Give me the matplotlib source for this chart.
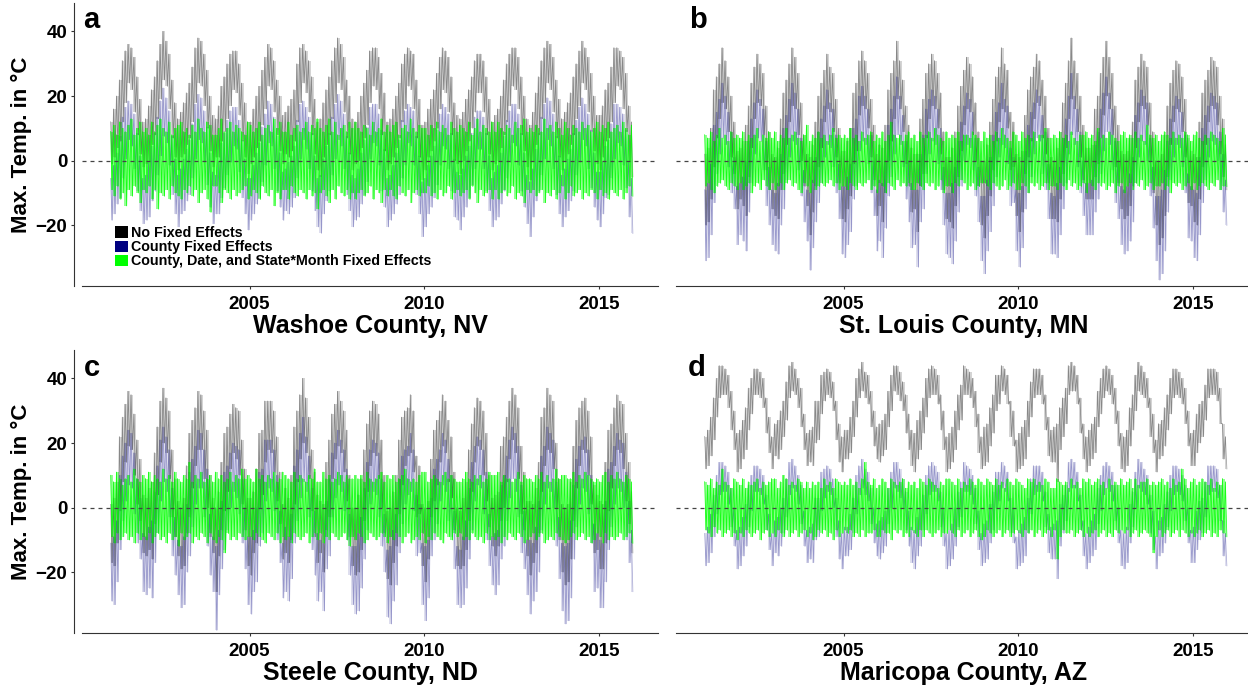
import numpy as np
import matplotlib
matplotlib.use("Agg")
import matplotlib.pyplot as plt
from matplotlib.patches import Patch

plt.rcParams["font.family"] = ["Liberation Sans", "DejaVu Sans"]
plt.rcParams["font.weight"] = "bold"

start_year = 2001   # monthly data, Jan 2001 .. Dec 2015 (one row per year)

# ---- "No Fixed Effects": monthly max / min of daily max temp (deg C) ----
washoe_hi = [
    [12,16,20,25,31,34,36,35,32,26,19,12],
    [13,17,22,26,31,36,40,37,33,25,18,13],
    [15,18,21,24,29,35,38,37,33,28,20,14],
    [13,17,23,26,30,33,34,34,30,24,18,12],
    [12,16,20,23,28,32,36,35,31,25,20,14],
    [15,17,19,22,30,35,36,34,31,26,19,12],
    [13,18,22,26,31,35,38,36,32,25,20,13],
    [12,15,20,24,28,34,35,35,32,27,21,12],
    [13,16,20,24,30,33,35,34,33,25,19,11],
    [12,16,19,22,27,32,35,34,32,26,18,14],
    [13,15,19,22,26,31,33,33,31,26,19,12],
    [14,16,20,25,30,33,35,35,32,26,20,13],
    [11,15,21,26,31,35,37,36,32,25,19,13],
    [15,18,21,26,30,34,37,35,32,27,20,14],
    [14,17,22,24,29,35,35,34,32,27,17,12]]
washoe_lo = [
    [-1,1,4,6,12,18,24,22,15,8,2,-2],
    [-1,0,5,8,13,19,25,23,16,7,1,-3],
    [1,2,5,7,12,18,24,23,17,10,3,-2],
    [1,1,6,9,13,17,22,21,14,6,1,-4],
    [-1,1,4,6,11,16,23,22,15,8,3,-1],
    [2,1,3,6,12,18,24,21,15,8,2,-3],
    [-5,1,5,8,13,18,24,22,15,7,2,-3],
    [-1,0,4,7,11,18,23,22,16,8,3,-3],
    [-1,1,4,7,12,16,23,22,16,7,1,-6],
    [-3,1,3,6,10,16,22,21,15,8,0,-1],
    [-4,0,3,6,10,15,21,21,15,8,2,-3],
    [-1,0,4,8,12,17,23,22,16,8,3,-2],
    [-6,0,5,8,13,18,24,22,15,7,1,-3],
    [0,2,5,8,13,17,24,22,15,9,3,-1],
    [-3,1,6,7,12,18,23,22,16,9,0,-5]]

stlouis_hi = [
    [2,4,10,22,26,30,35,31,26,20,12,3],
    [4,6,11,17,24,29,33,30,27,17,9,2],
    [1,4,13,21,25,30,35,32,27,18,8,2],
    [1,5,12,20,24,28,33,29,27,19,10,3],
    [3,6,10,21,24,31,34,31,27,19,11,2],
    [5,4,11,22,27,31,37,31,25,17,11,4],
    [2,2,13,19,27,30,33,31,27,21,9,1],
    [1,4,9,17,23,28,32,30,26,18,9,0],
    [0,5,12,19,26,29,35,30,28,15,12,2],
    [1,3,14,22,26,29,33,31,25,20,10,1],
    [0,4,9,18,24,31,38,31,27,20,11,4],
    [4,5,16,20,27,32,37,32,27,17,11,3],
    [2,3,7,12,25,29,33,31,29,18,9,0],
    [0,2,8,17,24,28,31,30,26,19,7,3],
    [2,1,12,21,25,28,32,31,29,20,13,5]]
stlouis_lo = [
    [-20,-19,-12,-2,7,13,18,16,9,1,-4,-15],
    [-12,-14,-17,-5,4,13,18,17,8,-3,-9,-15],
    [-17,-18,-9,-4,5,12,17,16,8,0,-8,-14],
    [-23,-16,-8,-2,4,12,16,15,9,1,-7,-18],
    [-19,-15,-11,-1,3,14,17,16,10,1,-6,-17],
    [-14,-19,-10,0,6,13,19,16,9,-1,-8,-16],
    [-15,-22,-8,-4,7,13,17,16,10,2,-9,-18],
    [-19,-21,-14,-5,3,11,16,15,8,0,-8,-20],
    [-24,-17,-11,-3,6,12,16,15,10,-3,-2,-17],
    [-22,-16,-4,1,6,13,18,17,7,2,-7,-18],
    [-18,-19,-12,-4,4,13,19,16,9,1,-6,-12],
    [-12,-12,-5,-1,7,14,20,16,8,-2,-7,-15],
    [-18,-17,-14,-8,4,12,17,16,11,0,-10,-20],
    [-26,-24,-17,-5,5,12,16,15,9,1,-13,-14],
    [-19,-20,-12,-2,5,12,17,16,11,2,-5,-9]]

steele_hi = [
    [1,3,8,22,28,32,36,35,29,21,15,4],
    [3,6,8,17,25,33,37,34,30,18,9,2],
    [0,3,13,23,27,31,36,35,30,24,10,3],
    [0,5,14,23,25,29,32,31,30,21,12,3],
    [3,5,12,23,24,33,33,33,30,22,11,1],
    [6,3,10,25,30,35,40,34,28,18,11,4],
    [2,1,14,21,29,32,36,33,30,24,10,0],
    [0,4,9,18,26,30,33,32,29,21,10,-1],
    [0,5,10,21,28,30,31,35,30,16,13,1],
    [0,2,15,24,27,30,35,33,27,22,11,0],
    [-1,3,8,18,26,31,34,33,30,23,10,3],
    [4,5,19,22,28,33,37,35,31,19,11,2],
    [2,1,6,14,28,31,37,35,33,20,9,1],
    [0,1,8,19,27,31,33,34,30,22,7,4],
    [2,1,14,24,26,31,35,33,32,23,14,5]]
steele_lo = [
    [-17,-18,-11,-1,8,14,19,18,10,1,-4,-14],
    [-15,-13,-16,-5,4,14,20,17,9,-3,-9,-15],
    [-19,-18,-8,-3,6,13,18,18,9,0,-9,-14],
    [-26,-15,-7,-1,5,12,17,15,10,1,-7,-18],
    [-21,-14,-11,0,4,14,18,17,11,2,-5,-16],
    [-14,-17,-10,1,8,15,20,17,9,-1,-9,-17],
    [-14,-20,-7,-3,9,15,19,17,11,2,-9,-18],
    [-21,-20,-13,-4,5,13,17,16,9,0,-8,-22],
    [-24,-17,-12,-2,7,13,16,17,11,-3,-2,-18],
    [-23,-16,-3,2,7,14,19,17,8,3,-7,-18],
    [-19,-18,-13,-4,5,14,19,18,10,2,-6,-12],
    [-15,-12,-4,0,8,15,21,17,9,-2,-7,-15],
    [-21,-17,-14,-8,5,13,18,17,12,0,-10,-20],
    [-24,-23,-16,-4,6,13,18,17,10,1,-14,-13],
    [-19,-19,-11,-1,6,13,18,17,12,2,-5,-14]]

maricopa_hi = [
    [22,24,28,34,40,44,44,43,41,36,30,23],
    [24,27,31,37,40,43,43,42,40,34,28,22],
    [26,27,30,33,39,44,45,43,40,37,29,23],
    [24,25,33,33,41,42,43,42,39,33,26,22],
    [24,24,28,33,40,43,45,42,41,36,30,25],
    [26,27,29,36,41,44,44,42,39,35,29,24],
    [23,27,30,34,40,43,44,43,41,35,30,22],
    [23,25,30,35,38,44,43,42,40,36,29,22],
    [25,26,31,35,41,41,44,43,41,33,30,21],
    [23,25,27,33,39,43,43,43,41,35,28,24],
    [25,26,31,34,37,44,45,44,41,34,26,22],
    [24,26,28,36,40,43,44,43,41,37,30,23],
    [22,24,31,35,41,45,44,42,40,34,29,21],
    [26,27,31,35,40,43,43,42,40,37,30,23],
    [24,29,32,33,38,43,43,43,42,37,26,22]]
maricopa_lo = [
    [12,13,16,21,28,34,35,35,31,24,18,11],
    [12,15,18,24,29,35,35,34,31,23,17,12],
    [16,15,18,22,27,34,36,35,31,25,18,13],
    [14,13,20,21,29,33,35,34,30,21,14,11],
    [15,15,17,22,28,34,36,34,32,25,19,15],
    [14,16,18,25,30,36,35,33,30,23,18,13],
    [11,15,18,23,28,34,35,35,32,24,18,11],
    [12,14,18,24,27,35,35,34,31,25,17,12],
    [13,14,19,23,30,32,36,35,32,22,19,11],
    [12,13,15,22,28,34,35,35,32,24,16,14],
    [14,8,18,22,26,35,36,36,32,23,15,11],
    [13,15,17,25,29,34,36,35,32,26,19,12],
    [11,13,19,24,30,36,35,34,31,22,17,11],
    [15,16,19,24,29,34,35,34,32,26,19,13],
    [13,17,20,22,27,34,35,35,33,26,15,12]]

# county means removed by the county fixed effect (blue = grey - mean)
washoe_mean, stlouis_mean, steele_mean, maricopa_mean = 17.5, 11.0, 12.0, 30.0

# ---- residuals after county, date and state*month fixed effects ----
washoe_res_hi = [
    [9,11,8,12,10,9,11,13,8,10,12,9],
    [10,8,12,9,11,13,10,9,12,8,10,11],
    [12,9,10,8,11,9,13,10,9,12,11,8],
    [8,10,13,9,10,12,9,11,10,9,8,12],
    [11,9,10,12,8,10,11,9,13,10,12,9],
    [9,12,8,10,11,9,10,12,9,11,10,13],
    [10,9,11,13,9,12,8,10,11,9,12,10],
    [12,10,9,11,10,8,12,9,10,13,9,11],
    [9,11,12,8,10,11,9,13,10,9,11,10],
    [10,8,11,10,12,9,11,10,8,12,10,9],
    [11,10,9,12,8,10,13,9,11,10,9,12],
    [9,12,10,9,11,10,8,12,10,11,13,9],
    [10,9,11,10,9,13,10,11,9,12,10,8],
    [12,10,8,11,10,9,12,10,11,9,10,12],
    [9,11,10,12,9,10,11,9,12,10,8,11]]
washoe_res_lo = [
    [-9,-11,-8,-12,-10,-14,-9,-11,-8,-10,-13,-9],
    [-10,-8,-12,-9,-15,-10,-11,-9,-12,-8,-10,-11],
    [-12,-9,-10,-8,-11,-9,-13,-10,-9,-12,-16,-8],
    [-8,-10,-13,-9,-10,-12,-9,-11,-10,-9,-8,-12],
    [-11,-9,-10,-12,-8,-10,-11,-9,-14,-10,-12,-9],
    [-9,-12,-8,-10,-11,-9,-10,-12,-9,-11,-10,-15],
    [-10,-9,-11,-13,-9,-12,-8,-10,-11,-9,-12,-10],
    [-12,-10,-9,-11,-10,-8,-12,-9,-10,-13,-9,-11],
    [-9,-11,-12,-8,-10,-11,-9,-13,-10,-9,-11,-10],
    [-10,-8,-11,-10,-12,-9,-11,-10,-8,-12,-10,-9],
    [-11,-10,-9,-12,-8,-10,-13,-9,-11,-10,-9,-12],
    [-9,-12,-10,-9,-11,-10,-8,-12,-10,-11,-13,-9],
    [-10,-9,-11,-10,-9,-13,-10,-11,-9,-12,-10,-8],
    [-12,-10,-8,-11,-10,-9,-12,-10,-11,-9,-10,-12],
    [-9,-11,-10,-12,-9,-10,-11,-9,-12,-10,-8,-11]]

stlouis_res_hi = [
    [8,7,9,6,8,10,7,8,6,9,7,8],
    [7,9,6,8,7,8,10,6,8,7,9,7],
    [9,6,8,7,10,7,8,9,7,6,8,11],
    [6,8,7,9,7,8,6,8,10,7,8,7],
    [8,7,10,7,8,6,9,7,8,9,6,8],
    [7,9,6,8,12,8,7,8,6,8,9,7],
    [8,6,9,7,8,9,7,10,8,7,6,9],
    [7,8,7,9,6,8,8,7,9,8,7,6],
    [9,7,8,6,9,7,10,8,7,6,9,8],
    [6,9,7,8,7,9,6,8,8,10,7,7],
    [8,7,9,7,8,6,9,7,6,8,8,9],
    [7,8,6,10,7,8,7,9,8,7,6,8],
    [9,7,8,7,9,7,8,6,11,8,7,8],
    [6,8,9,8,7,9,7,8,7,9,8,6],
    [8,9,7,6,8,7,9,8,7,6,10,8]]
stlouis_res_lo = [
    [-8,-7,-9,-10,-8,-7,-6,-8,-9,-7,-8,-9],
    [-7,-9,-8,-7,-10,-8,-7,-9,-6,-8,-9,-7],
    [-9,-8,-7,-9,-7,-6,-8,-7,-9,-10,-7,-8],
    [-10,-7,-9,-8,-7,-8,-7,-6,-8,-7,-9,-8],
    [-8,-9,-7,-8,-9,-7,-8,-7,-6,-9,-8,-10],
    [-7,-8,-10,-7,-8,-9,-6,-8,-7,-8,-7,-9],
    [-9,-7,-8,-9,-7,-8,-7,-9,-8,-6,-10,-8],
    [-8,-10,-7,-8,-6,-7,-9,-8,-7,-9,-8,-7],
    [-7,-8,-9,-7,-8,-9,-8,-6,-9,-8,-7,-9],
    [-9,-7,-8,-10,-7,-8,-7,-9,-8,-7,-9,-8],
    [-8,-9,-7,-8,-9,-6,-8,-7,-9,-8,-7,-10],
    [-7,-8,-9,-7,-8,-7,-9,-8,-7,-10,-8,-7],
    [-10,-8,-7,-9,-7,-8,-6,-9,-8,-7,-9,-8],
    [-8,-7,-9,-8,-10,-7,-8,-7,-9,-8,-7,-9],
    [-7,-9,-8,-7,-8,-9,-7,-8,-6,-9,-8,-8]]

steele_res_hi = [
    [10,8,11,9,7,9,10,8,12,9,8,10],
    [9,11,8,10,9,8,12,9,10,8,11,9],
    [8,10,9,14,8,10,9,11,8,9,10,8],
    [11,9,10,8,9,11,8,10,9,12,9,10],
    [9,8,12,9,10,8,10,9,11,8,9,11],
    [10,9,8,11,9,10,9,8,10,9,12,8],
    [8,11,9,10,8,9,11,10,8,10,9,9],
    [10,9,10,8,11,9,8,9,10,11,8,10],
    [9,10,8,9,10,12,9,8,9,8,10,11],
    [11,8,9,10,9,8,10,11,9,10,9,8],
    [8,9,11,9,8,10,9,10,8,9,11,10],
    [10,11,8,10,9,9,8,9,11,8,10,9],
    [9,8,10,9,11,8,10,8,9,12,9,10],
    [10,9,9,11,8,10,9,11,10,9,8,9],
    [8,10,11,8,10,9,11,9,8,10,9,8]]
steele_res_lo = [
    [-9,-11,-8,-10,-9,-8,-10,-9,-11,-8,-10,-9],
    [-10,-8,-11,-9,-8,-10,-9,-11,-8,-10,-9,-12],
    [-8,-10,-9,-8,-11,-9,-10,-8,-9,-11,-8,-10],
    [-11,-9,-10,-14,-8,-10,-9,-10,-8,-9,-10,-9],
    [-9,-10,-8,-9,-10,-11,-8,-9,-10,-8,-11,-9],
    [-10,-9,-11,-8,-9,-10,-9,-8,-11,-9,-8,-10],
    [-8,-11,-9,-10,-8,-9,-10,-9,-8,-10,-12,-9],
    [-10,-8,-9,-11,-10,-8,-9,-10,-9,-8,-9,-11],
    [-9,-10,-8,-9,-11,-9,-8,-11,-10,-9,-10,-8],
    [-11,-9,-10,-8,-9,-10,-11,-8,-9,-10,-8,-9],
    [-8,-10,-9,-10,-8,-9,-10,-9,-11,-8,-10,-9],
    [-10,-9,-11,-9,-10,-8,-9,-10,-8,-9,-11,-10],
    [-9,-8,-10,-9,-8,-11,-10,-9,-10,-8,-9,-10],
    [-11,-10,-9,-8,-10,-9,-8,-10,-9,-11,-10,-8],
    [-9,-11,-8,-10,-9,-10,-9,-8,-10,-9,-8,-11]]

maricopa_res_hi = [
    [8,7,9,6,8,7,12,8,7,6,9,8],
    [7,9,6,8,7,8,9,6,8,7,8,9],
    [9,6,8,10,9,7,8,7,9,8,6,8],
    [6,8,7,8,6,9,7,8,6,9,8,7],
    [8,7,9,7,8,6,9,14,8,7,9,6],
    [7,9,8,6,9,8,7,8,9,6,8,7],
    [8,6,9,8,7,9,8,7,6,8,7,9],
    [9,8,7,9,6,8,7,9,8,7,9,8],
    [7,9,8,7,9,7,8,6,9,8,7,9],
    [8,7,6,9,8,9,7,8,7,9,8,6],
    [6,9,8,7,8,6,9,7,8,6,9,8],
    [9,7,8,9,7,8,6,9,7,8,7,9],
    [7,8,9,6,9,7,8,8,9,7,8,7],
    [8,9,7,8,6,9,7,8,12,9,6,8],
    [9,7,8,9,8,7,9,6,8,7,9,8]]
maricopa_res_lo = [
    [-7,-8,-9,-6,-8,-7,-9,-8,-7,-9,-8,-10],
    [-8,-9,-7,-8,-9,-8,-7,-10,-8,-7,-9,-8],
    [-9,-7,-8,-9,-7,-9,-8,-7,-9,-8,-7,-9],
    [-8,-10,-9,-7,-8,-7,-9,-8,-10,-7,-9,-8],
    [-7,-8,-7,-9,-8,-9,-7,-9,-8,-8,-7,-9],
    [-9,-7,-8,-8,-10,-7,-8,-7,-9,-8,-9,-7],
    [-8,-9,-7,-9,-7,-8,-9,-8,-7,-9,-8,-8],
    [-7,-8,-9,-7,-9,-8,-7,-9,-8,-7,-9,-10],
    [-9,-7,-8,-9,-8,-7,-9,-8,-7,-9,-8,-7],
    [-8,-9,-7,-8,-7,-9,-8,-7,-9,-8,-7,-9],
    [-7,-16,-9,-7,-8,-8,-7,-9,-8,-7,-9,-8],
    [-9,-8,-7,-9,-8,-7,-9,-8,-9,-7,-8,-7],
    [-8,-7,-9,-8,-7,-9,-8,-7,-8,-9,-14,-9],
    [-7,-9,-8,-7,-9,-8,-7,-9,-7,-8,-9,-8],
    [-9,-8,-7,-9,-8,-7,-9,-8,-9,-7,-8,-9]]

panel_letters = ["a", "b", "c", "d"]
panel_titles = ["Washoe County, NV", "St. Louis County, MN",
                "Steele County, ND", "Maricopa County, AZ"]
series_names = ["No Fixed Effects", "County Fixed Effects",
                "County, Date, and State*Month Fixed Effects"]
series_colors = ["black", "#000080", "#00ff00"]
x_ticks = [2005, 2010, 2015]
y_ticks = [-20, 0, 20, 40]

panels = [
    (washoe_hi, washoe_lo, washoe_mean, washoe_res_hi, washoe_res_lo),
    (stlouis_hi, stlouis_lo, stlouis_mean, stlouis_res_hi, stlouis_res_lo),
    (steele_hi, steele_lo, steele_mean, steele_res_hi, steele_res_lo),
    (maricopa_hi, maricopa_lo, maricopa_mean, maricopa_res_hi, maricopa_res_lo),
]


def monthly_trace(hi, lo):
    # each month drawn as its max then its min, half a month apart
    m = np.arange(hi.size)
    x = np.column_stack([start_year + (m + 0.25) / 12,
                         start_year + (m + 0.75) / 12]).ravel()
    y = np.column_stack([hi, lo]).ravel()
    return x, y


def draw_series(ax, hi, lo, color, band_alpha, line_alpha, shift=0.0):
    hi = np.ravel(np.array(hi, float)) - shift
    lo = np.ravel(np.array(lo, float)) - shift
    xm = start_year + (np.arange(hi.size) + 0.5) / 12
    ax.fill_between(xm, lo, hi, step="mid", color=color, alpha=band_alpha,
                    lw=0)
    x, y = monthly_trace(hi, lo)
    ax.plot(x, y, color=color, alpha=line_alpha, lw=0.6)


W, H = 1248, 685
fig = plt.figure(figsize=(W / 100, H / 100), dpi=100)
boxes = [(82, 3), (676, 3), (82, 350), (676, 350)]   # left, top in px
aw, ah = 576, 283

for i, (hi, lo, mean, rhi, rlo) in enumerate(panels):
    left, top = boxes[i]
    ax = fig.add_axes([left / W, 1 - (top + ah) / H, aw / W, ah / H])
    draw_series(ax, hi, lo, "black", 0.17, 0.36)
    draw_series(ax, hi, lo, "#000080", 0.13, 0.32, shift=mean)
    draw_series(ax, rhi, rlo, "#00ff00", 0.42, 0.85)
    ax.axhline(0, color="#444444", lw=0.9, ls=(0, (3.2, 3.2)), zorder=5)

    ax.set_xlim(2000.2, 2016.7)
    ax.set_ylim(-38.8, 48.8)
    ax.set_xticks(x_ticks)
    ax.set_yticks(y_ticks)
    for s in ("top", "right"):
        ax.spines[s].set_visible(False)
    ax.spines["bottom"].set_color("#333333")
    ax.spines["bottom"].set_linewidth(0.8)
    ax.tick_params(axis="x", length=2.5, width=0.8, color="#333333",
                   pad=4.5, labelsize=13.5)
    if i % 2 == 0:
        ax.spines["left"].set_position(("outward", 6))
        ax.spines["left"].set_color("#333333")
        ax.spines["left"].set_linewidth(0.8)
        ax.tick_params(axis="y", length=2.5, width=0.8, color="#333333",
                       pad=2, labelsize=13.5)
        ax.set_ylabel("Max. Temp. in °C", fontsize=16, fontweight="bold",
                      labelpad=2.5)
    else:
        ax.spines["left"].set_visible(False)
        ax.tick_params(axis="y", left=False, labelleft=False)
    ax.set_xlabel(panel_titles[i], fontsize=18, fontweight="bold",
                  labelpad=1)

    if i == 0:
        handles = [Patch(facecolor=c, edgecolor="none") for c in series_colors]
        ax.legend(handles, series_names, loc="lower left",
                  bbox_to_anchor=(0.058, 0.062), frameon=False,
                  fontsize=10.3, handlelength=0.85, handleheight=0.85,
                  handletextpad=0.25, labelspacing=0.02, borderpad=0,
                  borderaxespad=0)

letter_pos = [(83, 28), (689, 28), (84, 376), (688, 376)]
for (lx, ly), letter in zip(letter_pos, panel_letters):
    fig.text(lx / W, 1 - ly / H, letter, fontsize=21, fontweight="bold",
             ha="left", va="baseline")

fig.savefig("out.png", dpi=100)
